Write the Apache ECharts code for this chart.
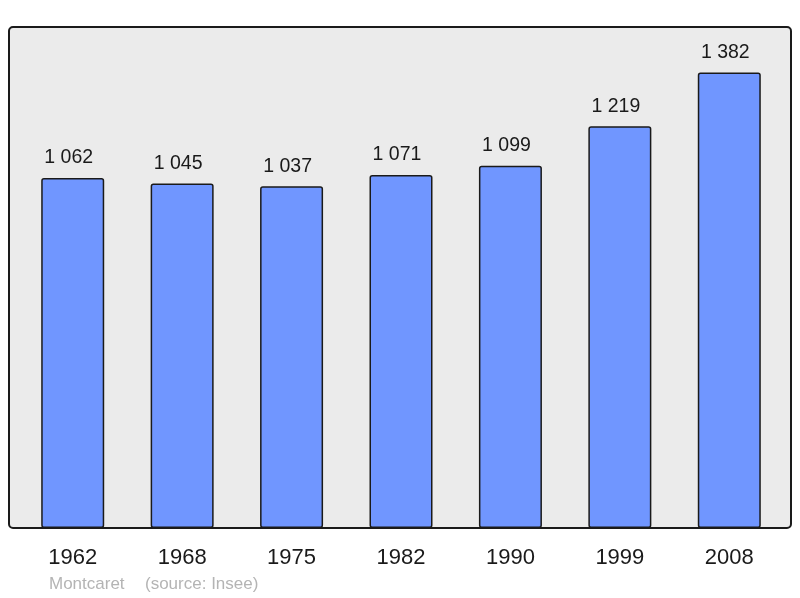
<!DOCTYPE html>
<html>
<head>
<meta charset="utf-8">
<script src="https://cdn.jsdelivr.net/npm/echarts@6/dist/echarts.min.js"></script>
<style>
html,body{margin:0;padding:0;background:#fff;}
#c{width:800px;height:598px;}
</style>
</head>
<body>
<div id="c"></div>
<script>
var years = ['1962','1968','1975','1982','1990','1999','2008'];
var population = [1062, 1045, 1037, 1071, 1099, 1219, 1382];
var place = 'Montcaret';
var source = '(source: Insee)';

function fmt(v){ return String(v).replace(/\B(?=(\d{3})+(?!\d))/g, ' '); }

var FONT = '"Liberation Sans", Arial, sans-serif';
var chart = echarts.init(document.getElementById('c'), null, {renderer:'canvas'});
chart.setOption({
  animation:false,
  backgroundColor:'#ffffff',
  graphic:[
    {type:'rect', z:-10, shape:{x:9, y:27, width:782, height:501, r:4},
     style:{fill:'#ebebeb', stroke:'#1a1a1a', lineWidth:2}},
    {type:'text', left:49, top:576,
     style:{text:place, fill:'#b4b4b4', font:'17px ' + FONT}},
    {type:'text', left:145, top:576,
     style:{text:source, fill:'#b4b4b4', font:'17px ' + FONT}}
  ],
  grid:{left:18, right:16, top:27, bottom:70, containLabel:false},
  xAxis:{
    type:'category', data:years,
    axisLine:{show:false}, axisTick:{show:false},
    axisLabel:{color:'#1a1a1a', fontSize:22, margin:19, fontFamily:FONT}
  },
  yAxis:{
    type:'value', min:0, max:1520, show:false, splitLine:{show:false}
  },
  series:[{
    type:'bar', data:population, barWidth:63,
    itemStyle:{color:'#7096ff', borderColor:'#1a1a1a', borderWidth:1.5, borderRadius:2},
    label:{show:true, position:'top', distance:10, offset:[-4,0], color:'#1a1a1a', fontSize:19.5,
      fontFamily:FONT,
      formatter:function(p){return fmt(p.value);}}
  }]
});
</script>
</body>
</html>
